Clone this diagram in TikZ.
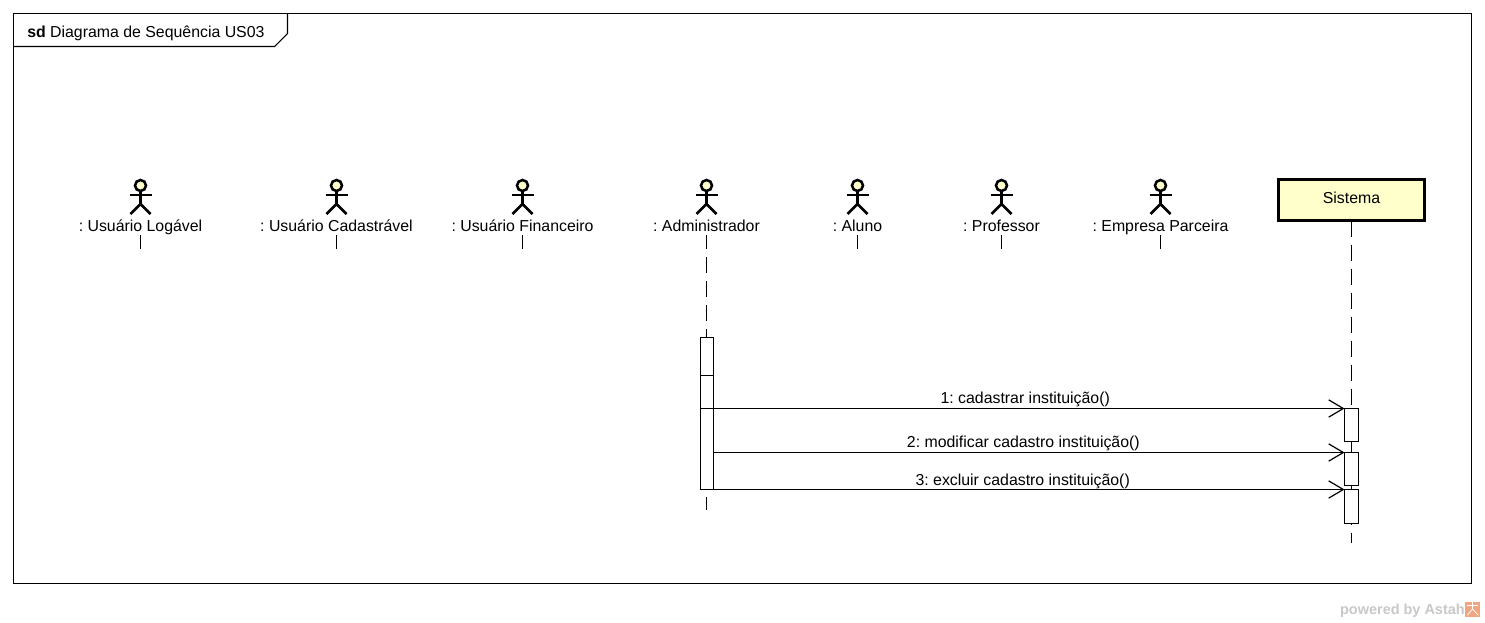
\documentclass[tikz,border=0pt]{standalone}
\usepackage{fontspec}
\setmainfont{Liberation Sans}
\frenchspacing
\usetikzlibrary{positioning,arrows.meta}
\definecolor{actorfill}{HTML}{FFFFCC}
\definecolor{astahgray}{HTML}{C8C8C8}
\definecolor{astahorange}{HTML}{F2A583}
\tikzset{
  actorlabel/.style={rectangle,inner sep=0pt,outer sep=0pt,text height=9pt,text depth=3pt},
  objbox/.style={rectangle,draw,line width=2.25pt,fill=actorfill,inner sep=0pt,outer sep=0pt,
    minimum width=109.5pt,minimum height=30.75pt,text height=9pt,text depth=4pt},
  activ/.style={rectangle,draw,fill=white,line width=.9pt,inner sep=0pt,outer sep=0pt,minimum width=9.75pt},
  sysactiv/.style={activ,minimum width=10.5pt},
  lifeline/.style={line width=.9pt,dash pattern=on 12pt off 6pt},
  stub/.style={line width=.9pt},
  msg/.style={line width=.9pt,-{Straight Barb[length=11pt,width=13pt,line width=.9pt]}},
  msglabel/.style={inner sep=0pt,outer sep=0pt,text height=9pt,text depth=3pt},
  pics/stickman/.style={code={
    \draw[line width=1.9pt,fill=actorfill] (0,-9.5) circle (5.5);
    \draw[line width=1.9pt] (0,-4) -- (0,9);
    \draw[line width=1.9pt] (-11,0) -- (11,0);
    \draw[line width=1.9pt] (-10,19) -- (0,9) -- (10,19);
  }}
}
\begin{document}
\begin{tikzpicture}[x=.75pt,y=-.75pt,font=\fontsize{11.9pt}{14pt}\selectfont]
  \useasboundingbox (0,0) rectangle (1485,622);
  % frame
  \node[rectangle,draw,line width=.8pt,inner sep=0pt,minimum width=1093.5pt,minimum height=427.5pt] (frame) at (742.5,298.5) {};
  \coordinate (tabtop) at (287.5,13.5);
  \coordinate (tabmid) at (287.5,33.5);
  \coordinate (tabcut) at (274.5,46.5);
  \coordinate (tabend) at (13.5,46.5);
  \draw[line width=.8pt] (tabtop) -- (tabmid) -- (tabcut) -- (tabend);
  \node[inner sep=0pt,anchor=base west] (title) at (27,37) {\textbf{sd} Diagrama de Sequência US03};
  % actors
  \node[actorlabel] (logavel) at (140.5,227) {: Usuário Logável};
  \node[actorlabel,right of=logavel,node distance=147pt] (cadastravel) {: Usuário Cadastrável};
  \node[actorlabel,right of=cadastravel,node distance=139.5pt] (financeiro) {: Usuário Financeiro};
  \node[actorlabel,right of=financeiro,node distance=138pt] (admin) {: Administrador};
  \node[actorlabel,right of=admin,node distance=113.25pt] (aluno) {: Aluno};
  \node[actorlabel,right of=aluno,node distance=108pt] (professor) {: Professor};
  \node[actorlabel,right of=professor,node distance=119.25pt] (empresa) {: Empresa Parceira};
  \pic at ([yshift=18pt]logavel.north) {stickman};
  \pic at ([yshift=18pt]cadastravel.north) {stickman};
  \pic at ([yshift=18pt]financeiro.north) {stickman};
  \pic at ([yshift=18pt]admin.north) {stickman};
  \pic at ([yshift=18pt]aluno.north) {stickman};
  \pic at ([yshift=18pt]professor.north) {stickman};
  \pic at ([yshift=18pt]empresa.north) {stickman};
  \node[objbox] (sistema) at (1351.5,200) {Sistema};
  % lifelines
  \coordinate[below=10.5pt of logavel.south] (logavelend);
  \coordinate[below=10.5pt of cadastravel.south] (cadastravelend);
  \coordinate[below=10.5pt of financeiro.south] (financeiroend);
  \coordinate[below=10.5pt of aluno.south] (alunoend);
  \coordinate[below=10.5pt of professor.south] (professorend);
  \coordinate[below=10.5pt of empresa.south] (empresaend);
  \coordinate (adminend) at (706.5,510);
  \coordinate (sistemaend) at (1351.5,543);
  \draw[stub] (logavel.south) -- (logavelend);
  \draw[stub] (cadastravel.south) -- (cadastravelend);
  \draw[stub] (financeiro.south) -- (financeiroend);
  \draw[stub] (aluno.south) -- (alunoend);
  \draw[stub] (professor.south) -- (professorend);
  \draw[stub] (empresa.south) -- (empresaend);
  \draw[lifeline,dash phase=1.5pt] (admin.south) -- (adminend);
  \draw[lifeline] (sistema.south) -- (sistemaend);
  % activations
  \node[activ,minimum height=114pt] (adminbar) at (707,413.5) {};
  \coordinate (adminsplit1) at (700.5,375.5);
  \coordinate (adminsplit2) at (713.5,375.5);
  \coordinate (adminsplit3) at (700.5,408.5);
  \coordinate (adminsplit4) at (713.5,408.5);
  \draw[stub] (adminsplit1) -- (adminsplit2);
  \draw[stub] (adminsplit3) -- (adminsplit4);
  \node[sysactiv,minimum height=24.75pt] (sys1) at (1351.5,425) {};
  \node[sysactiv,minimum height=24.75pt] (sys2) at (1351.5,469) {};
  \node[sysactiv,minimum height=25.5pt] (sys3) at (1351.5,506.5) {};
  % messages
  \draw[msg] (adminbar.east |- sys1.north) -- node[msglabel,above=1pt,pos=.494] (m1) {1: cadastrar instituição()} (sys1.north west);
  \draw[msg] (adminbar.east |- sys2.north) -- node[msglabel,above=1pt,pos=.491] (m2) {2: modificar cadastro instituição()} (sys2.north west);
  \draw[msg] (adminbar.east |- sys3.north) -- node[msglabel,above=.25pt,pos=.49] (m3) {3: excluir cadastro instituição()} (sys3.north west);
  % watermark
  \node[inner sep=0pt,anchor=base east,text=astahgray,font=\bfseries\fontsize{10.85pt}{12pt}\selectfont] (powered) at (1465,614) {powered by Astah};
  \node[rectangle,fill=astahorange,inner sep=0pt,minimum size=11.25pt] (astahicon) at (1472.5,609.5) {};
  \draw[white,line width=.6pt] (1467,605.5) -- (1478,605.5);
  \draw[white,line width=.6pt] (1472.5,602) -- (1472.5,609) -- (1467.5,615);
  \draw[white,line width=.6pt] (1472.5,609) -- (1478,615);
\end{tikzpicture}
\end{document}
